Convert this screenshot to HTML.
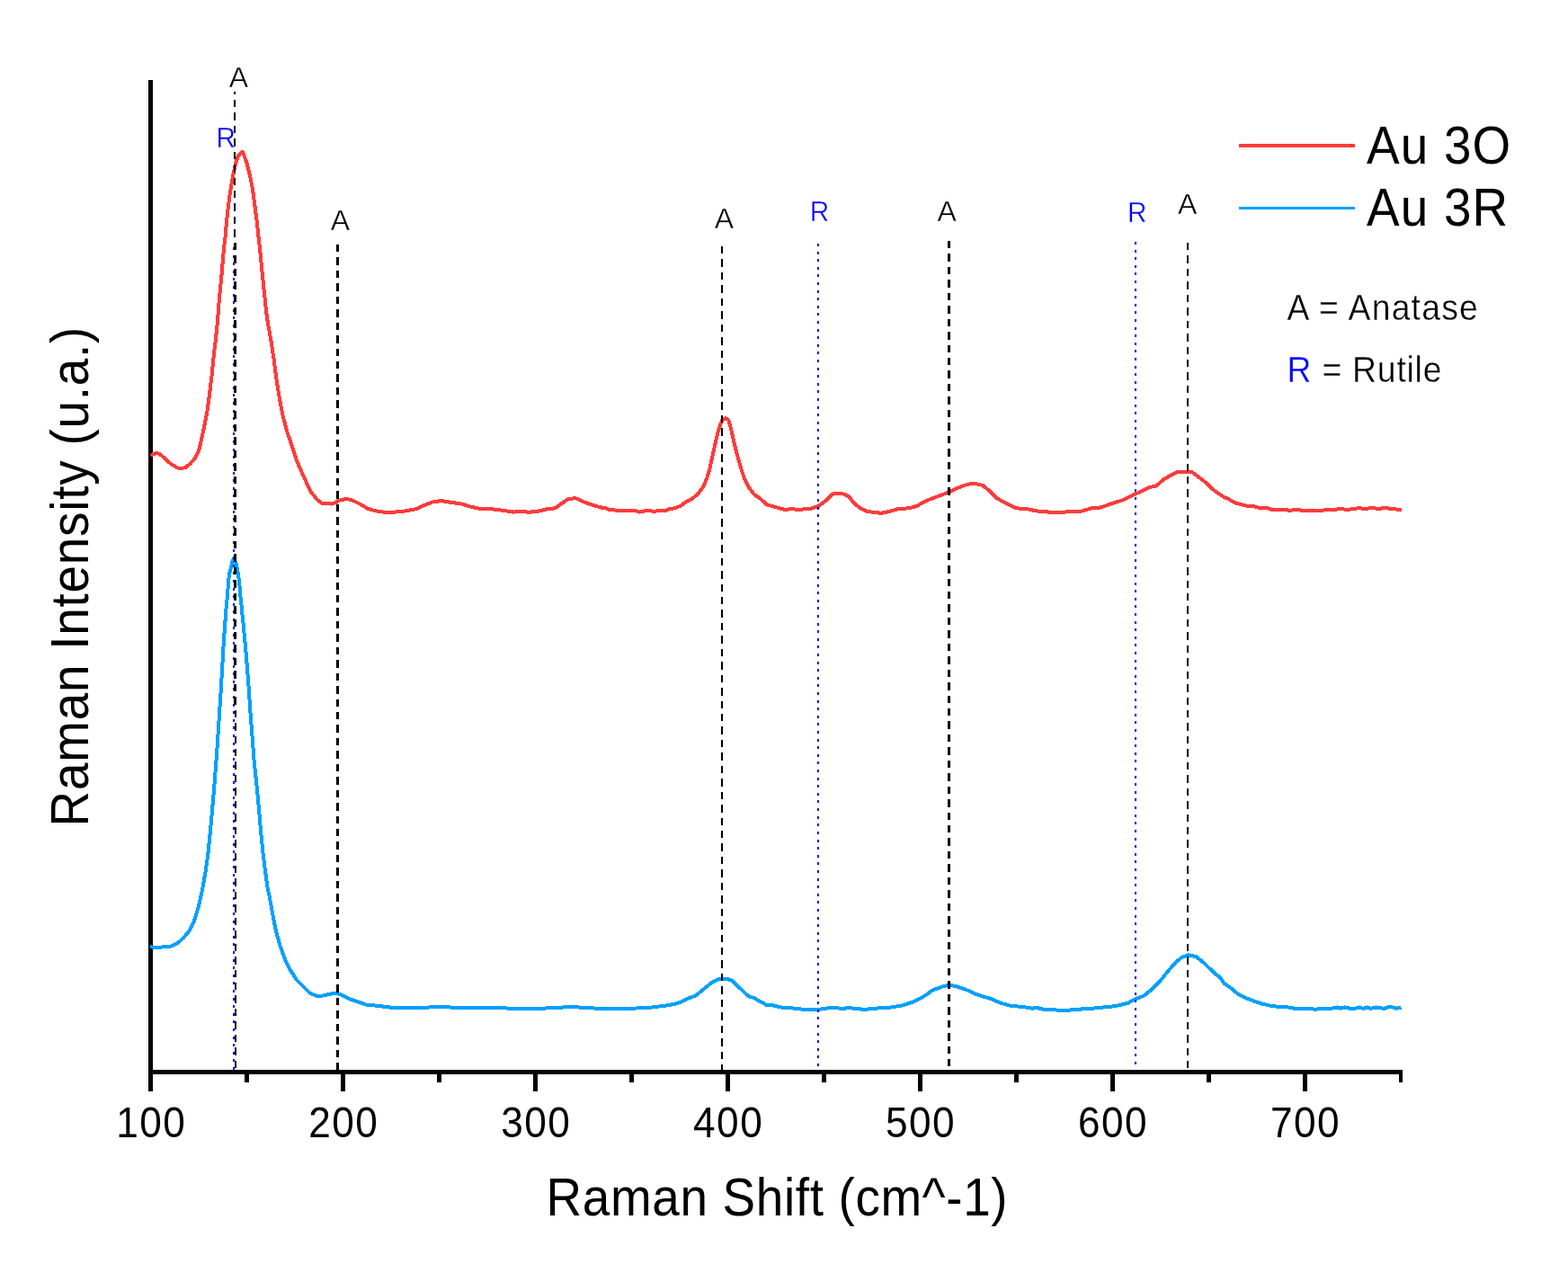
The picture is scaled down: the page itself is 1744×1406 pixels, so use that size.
<!DOCTYPE html>
<html lang="en">
<head>
<meta charset="utf-8">
<title>Raman spectra Au 3O / Au 3R</title>
<style>
html,body{margin:0;padding:0;background:#fff;}
body{width:1744px;height:1406px;overflow:hidden;}
svg{display:block;font-family:"Liberation Sans",sans-serif;}
.tl{fill:#000;}
.ax{fill:#000;}
.lg{fill:#000;}
.nt{fill:#000;stroke:#fff;stroke-width:0.35px;}
.pk{font-size:32px;text-anchor:middle;fill:#000;stroke:#fff;stroke-width:0.35px;}
.b{fill:#0000ff;}
</style>
</head>
<body>
<svg width="1744" height="1406" viewBox="0 0 1744 1406">
<rect x="0" y="0" width="1744" height="1406" fill="#ffffff"/>
<g shape-rendering="crispEdges">
<rect x="165" y="89" width="5" height="1125" fill="#000"/>
<rect x="165" y="1190" width="1395" height="5" fill="#000"/>
<rect x="165" y="1190" width="5" height="24" fill="#000"/>
<rect x="272" y="1190" width="5" height="14" fill="#000"/>
<rect x="379" y="1190" width="5" height="24" fill="#000"/>
<rect x="486" y="1190" width="5" height="14" fill="#000"/>
<rect x="593" y="1190" width="5" height="24" fill="#000"/>
<rect x="700" y="1190" width="5" height="14" fill="#000"/>
<rect x="807" y="1190" width="5" height="24" fill="#000"/>
<rect x="914" y="1190" width="5" height="14" fill="#000"/>
<rect x="1021" y="1190" width="5" height="24" fill="#000"/>
<rect x="1128" y="1190" width="5" height="14" fill="#000"/>
<rect x="1235" y="1190" width="5" height="24" fill="#000"/>
<rect x="1342" y="1190" width="5" height="14" fill="#000"/>
<rect x="1449" y="1190" width="5" height="24" fill="#000"/>
<rect x="1556" y="1190" width="4" height="14" fill="#000"/>
</g>
<path d="M167.5,506.9 L170.5,505.0 L174.4,504.0 L177.5,505.0 L180.0,506.9 L185.0,511.6 L191.2,516.9 L197.5,520.4 L201.9,521.0 L206.2,520.0 L211.2,516.2 L216.2,510.6 L220.6,502.5 L221.6,499.4 L226.1,479.5 L230.1,459.6 L232.9,439.7 L235.3,419.7 L237.3,399.8 L239.6,379.9 L241.8,359.8 L242.9,345.3 L244.0,331.1 L245.4,316.9 L246.8,302.7 L247.9,288.4 L249.3,274.2 L251.0,259.8 L251.5,252.5 L252.2,245.3 L252.9,238.2 L253.7,231.1 L254.6,224.0 L255.5,216.9 L256.7,209.8 L257.9,202.7 L259.1,195.6 L260.6,188.4 L262.3,181.3 L264.5,174.4 L267.5,170.3 L270.0,168.9 L271.9,174.2 L274.4,181.3 L276.3,188.4 L278.0,195.6 L279.5,202.7 L280.8,209.8 L281.9,216.9 L282.8,224.0 L283.7,231.1 L284.6,238.2 L285.5,245.3 L286.4,252.5 L287.1,259.8 L288.8,274.2 L290.2,288.4 L291.6,302.7 L293.0,316.9 L294.5,331.1 L295.9,345.3 L298.0,359.8 L301.6,379.9 L304.6,399.8 L307.2,419.7 L310.2,439.7 L314.0,459.8 L319.0,479.6 L326.0,499.6 L330.0,512.5 L335.0,523.8 L340.0,535.0 L346.2,547.5 L352.5,555.6 L358.8,560.4 L363.8,560.0 L368.8,560.6 L373.0,559.2 L376.9,556.7 L385.5,554.9 L392.4,556.7 L401.0,561.0 L408.7,565.6 L418.2,568.4 L428.5,569.9 L438.8,569.6 L450.9,568.4 L462.9,566.1 L471.5,562.2 L480.1,558.7 L490.4,557.0 L500.7,558.7 L512.8,560.4 L523.1,563.5 L533.4,565.8 L548.9,566.5 L559.2,567.8 L571.3,569.6 L578.2,569.0 L588.5,569.7 L598.8,568.7 L609.1,566.1 L617.7,565.3 L624.6,560.1 L631.5,555.3 L640.1,554.1 L648.7,558.0 L659.0,561.8 L670.0,564.9 L673.4,564.9 L678.6,567.3 L692.4,567.8 L706.1,567.8 L711.3,569.6 L719.9,567.8 L726.8,568.7 L740.5,567.8 L745.7,565.8 L750.9,565.3 L757.7,562.3 L762.9,558.4 L769.8,554.9 L776.7,548.9 L781.8,542.0 L786.1,532.6 L789.6,520.5 L793.0,505.0 L796.4,489.6 L799.9,475.8 L803.3,467.2 L806.8,465.1 L810.2,467.2 L812.8,475.8 L816.2,491.3 L819.7,505.0 L824.0,520.5 L828.3,533.4 L833.4,542.9 L838.6,549.8 L845.5,554.6 L853.2,561.5 L862.7,564.1 L873.0,567.0 L879.9,566.1 L888.5,567.0 L902.2,565.6 L910.8,562.7 L917.7,557.5 L926.3,549.4 L936.6,548.9 L943.5,551.8 L950.4,560.1 L957.3,565.6 L964.2,568.7 L970.0,569.7 L980.3,570.8 L988.9,569.0 L999.2,566.1 L1011.3,565.3 L1019.9,562.7 L1030.2,557.0 L1042.3,552.4 L1056.0,547.2 L1068.1,541.5 L1076.7,538.6 L1085.3,538.1 L1093.9,540.3 L1100.7,546.3 L1109.3,554.6 L1119.7,560.1 L1130.0,565.3 L1142.0,566.1 L1152.4,568.4 L1167.8,569.7 L1183.3,569.7 L1190.2,568.7 L1202.2,568.7 L1214.3,565.3 L1224.6,564.4 L1236.6,560.1 L1248.7,556.3 L1260.7,550.6 L1270.0,546.1 L1278.6,542.0 L1286.3,540.3 L1294.1,533.4 L1302.7,528.3 L1309.6,525.2 L1319.9,524.8 L1325.9,525.2 L1333.7,530.9 L1342.3,537.7 L1350.9,546.0 L1361.2,552.9 L1366.3,554.9 L1373.2,559.2 L1380.1,561.0 L1387.0,562.7 L1395.6,563.5 L1402.5,565.6 L1409.3,564.9 L1414.5,567.0 L1428.3,567.0 L1435.1,567.8 L1442.0,566.6 L1448.9,568.0 L1467.8,568.0 L1476.4,567.0 L1483.3,567.3 L1490.2,565.8 L1498.8,567.0 L1510.8,565.3 L1519.4,565.9 L1526.3,564.9 L1533.2,566.1 L1540.1,564.9 L1548.7,566.1 L1559.0,567.0" fill="none" stroke="#ff3b3b" stroke-width="4" stroke-linejoin="round" stroke-linecap="butt" shape-rendering="crispEdges"/>
<path d="M167.2,1053.2 L174.4,1054.2 L182.7,1053.2 L189.9,1052.6 L198.2,1048.6 L204.3,1042.9 L210.5,1035.6 L215.7,1025.3 L220.8,1008.8 L224.4,992.3 L225.1,989.4 L228.6,969.5 L231.4,949.6 L233.4,929.7 L235.3,909.7 L237.0,889.8 L238.7,869.9 L240.2,849.8 L241.7,829.5 L243.0,809.6 L244.3,789.7 L245.6,769.7 L246.8,749.8 L247.9,729.9 L249.0,710.0 L249.7,702.5 L250.1,695.3 L250.7,688.2 L251.2,681.1 L251.8,674.0 L252.5,666.9 L253.1,659.8 L253.7,652.7 L254.3,645.6 L255.0,638.4 L257.0,631.3 L258.5,624.6 L259.6,621.8 L261.2,623.5 L262.5,626.4 L263.5,631.3 L264.9,638.4 L265.9,645.6 L266.6,652.7 L267.1,659.8 L267.8,666.9 L268.6,674.0 L269.2,681.1 L269.9,688.2 L270.8,695.3 L271.4,702.5 L272.1,710.0 L273.9,729.9 L275.5,749.8 L277.0,769.7 L278.3,789.7 L279.8,809.6 L281.3,829.5 L282.9,849.8 L285.1,869.9 L287.1,889.8 L288.8,909.7 L290.6,929.7 L292.6,949.6 L295.1,969.5 L297.8,989.4 L299.2,994.4 L302.9,1015.0 L306.9,1035.6 L311.6,1052.1 L316.8,1066.6 L322.9,1079.0 L330.2,1090.3 L337.4,1097.5 L345.6,1105.4 L353.9,1108.2 L360.1,1107.4 L366.3,1105.8 L374.5,1104.7 L381.7,1107.4 L389.0,1111.5 L397.2,1114.0 L407.5,1117.7 L419.9,1118.8 L434.3,1120.6 L450.0,1121.5 L463.8,1120.9 L494.7,1120.0 L510.2,1121.2 L553.2,1120.9 L570.4,1121.9 L597.9,1121.9 L622.0,1120.9 L635.8,1119.6 L647.8,1120.9 L673.6,1122.1 L708.0,1121.5 L725.2,1120.5 L739.0,1118.8 L750.0,1116.9 L756.9,1114.8 L765.5,1110.5 L774.1,1107.4 L782.7,1100.2 L791.3,1093.3 L799.9,1089.0 L806.8,1088.5 L814.5,1090.7 L822.3,1098.5 L832.6,1108.3 L837.7,1109.7 L846.3,1114.3 L852.4,1117.8 L860.1,1118.4 L868.7,1120.5 L879.0,1121.2 L894.5,1122.9 L910.0,1122.9 L922.0,1121.2 L928.9,1120.9 L937.5,1122.1 L943.5,1120.9 L951.3,1121.9 L961.6,1122.9 L973.6,1121.7 L990.8,1120.5 L1002.9,1118.6 L1014.9,1114.8 L1027.0,1108.8 L1037.3,1101.4 L1050.0,1096.8 L1056.9,1095.9 L1063.8,1097.3 L1074.1,1100.6 L1084.4,1105.4 L1094.7,1108.8 L1103.3,1111.4 L1111.9,1115.3 L1124.0,1118.8 L1137.7,1120.0 L1148.1,1121.7 L1153.2,1120.9 L1160.1,1122.6 L1170.4,1123.4 L1187.6,1123.8 L1199.7,1122.6 L1211.7,1122.2 L1222.0,1120.9 L1234.1,1120.0 L1244.4,1118.3 L1254.7,1115.7 L1263.3,1110.9 L1271.9,1107.9 L1280.5,1101.1 L1290.8,1090.7 L1299.4,1079.9 L1308.0,1070.1 L1314.9,1064.6 L1321.8,1062.4 L1330.4,1064.1 L1339.0,1071.0 L1350.0,1081.7 L1356.9,1087.3 L1362.0,1094.2 L1370.6,1100.2 L1377.5,1106.2 L1387.8,1110.9 L1398.2,1114.8 L1405.0,1116.9 L1413.6,1118.8 L1422.3,1120.0 L1430.9,1120.2 L1439.5,1121.7 L1456.7,1121.7 L1462.7,1122.9 L1470.4,1121.7 L1482.5,1121.5 L1487.6,1120.5 L1491.1,1121.7 L1495.4,1120.5 L1501.4,1121.7 L1508.3,1121.5 L1512.6,1120.5 L1516.0,1121.9 L1520.3,1120.5 L1524.6,1121.9 L1530.6,1120.5 L1539.2,1121.9 L1546.1,1119.6 L1553.0,1121.7 L1558.5,1120.9" fill="none" stroke="#00a0ff" stroke-width="4" stroke-linejoin="round" stroke-linecap="butt" shape-rendering="crispEdges"/>
<g shape-rendering="crispEdges">
<line x1="260" y1="275" x2="260" y2="1190" stroke="#0000ff" stroke-width="2" stroke-dasharray="3 5.604" stroke-dashoffset="0"/>
<line x1="261.1" y1="102.1" x2="262.15" y2="1190" stroke="#000" stroke-width="2.5" stroke-dasharray="8.444 6" stroke-dashoffset="5.7"/>
<line x1="375.5" y1="272" x2="375.5" y2="1190" stroke="#000" stroke-width="3" stroke-dasharray="8.444 6" stroke-dashoffset="0"/>
<line x1="803" y1="274" x2="803" y2="1190" stroke="#000" stroke-width="2" stroke-dasharray="8.444 6" stroke-dashoffset="0"/>
<line x1="910" y1="271" x2="910" y2="1190" stroke="#0000ff" stroke-width="2" stroke-dasharray="3 5.604" stroke-dashoffset="0"/>
<line x1="1055.5" y1="268" x2="1055.5" y2="1190" stroke="#000" stroke-width="3" stroke-dasharray="8.444 6" stroke-dashoffset="0"/>
<line x1="1263" y1="269" x2="1263" y2="1190" stroke="#0000ff" stroke-width="2" stroke-dasharray="3 5.604" stroke-dashoffset="0"/>
<line x1="1321" y1="270" x2="1321" y2="1190" stroke="#000" stroke-width="2" stroke-dasharray="8.444 6" stroke-dashoffset="0"/>
</g>
<text class="tl" transform="translate(129.3 1265) scale(0.925 1)" text-anchor="start" font-size="47.8" letter-spacing="1.55">100</text>
<text class="tl" transform="translate(343.23 1265) scale(0.925 1)" text-anchor="start" font-size="47.8" letter-spacing="1.55">200</text>
<text class="tl" transform="translate(557.16 1265) scale(0.925 1)" text-anchor="start" font-size="47.8" letter-spacing="1.55">300</text>
<text class="tl" transform="translate(771.0899999999999 1265) scale(0.925 1)" text-anchor="start" font-size="47.8" letter-spacing="1.55">400</text>
<text class="tl" transform="translate(985.02 1265) scale(0.925 1)" text-anchor="start" font-size="47.8" letter-spacing="1.55">500</text>
<text class="tl" transform="translate(1198.95 1265) scale(0.925 1)" text-anchor="start" font-size="47.8" letter-spacing="1.55">600</text>
<text class="tl" transform="translate(1412.8799999999999 1265) scale(0.925 1)" text-anchor="start" font-size="47.8" letter-spacing="1.55">700</text>
<text class="ax" transform="translate(607.4999999999999 1351.9) scale(0.93 1)" text-anchor="start" font-size="59" letter-spacing="0.7013142174432294">Raman Shift (cm^-1)</text>
<text class="ax" transform="translate(98 919.4999999999999) rotate(-90) scale(0.93 1)" text-anchor="start" font-size="59" letter-spacing="0.8207885304659439">Raman Intensity (u.a.)</text>
<rect x="1378" y="160" width="129" height="4" fill="#ff3b3b"/>
<rect x="1378" y="230" width="129" height="3" fill="#00a0ff"/>
<text class="lg" transform="translate(1520.0 181.9) scale(0.93 1)" text-anchor="start" font-size="59" letter-spacing="1.2688172043010597">Au 3O</text>
<text class="lg" transform="translate(1520.0 250.8) scale(0.93 1)" text-anchor="start" font-size="59" letter-spacing="1.2688172043010597">Au 3R</text>
<text class="nt" transform="translate(1431.4999999999995 355.8) scale(0.93 1)" text-anchor="start" font-size="40.2" letter-spacing="1.2688172043011485">A = Anatase</text>
<text class="nt" transform="translate(1431.5000000000005 424.9) scale(0.93 1)" text-anchor="start" font-size="40.2" letter-spacing="0.8207885304659497"><tspan class="b">R</tspan> = Rutile</text>
<text class="pk" transform="translate(265.3 96.9) scale(1.0 1)">A</text>
<text class="pk b" transform="translate(251.2 164.1) scale(0.93 1)">R</text>
<text class="pk" transform="translate(378.4 256) scale(1.0 1)">A</text>
<text class="pk" transform="translate(805.4 254.25) scale(1.0 1)">A</text>
<text class="pk b" transform="translate(911.6 245.5) scale(0.93 1)">R</text>
<text class="pk" transform="translate(1053.1 245.5) scale(1.0 1)">A</text>
<text class="pk b" transform="translate(1264.7 247) scale(0.93 1)">R</text>
<text class="pk" transform="translate(1320.6 237.5) scale(1.0 1)">A</text>
</svg>
</body>
</html>
